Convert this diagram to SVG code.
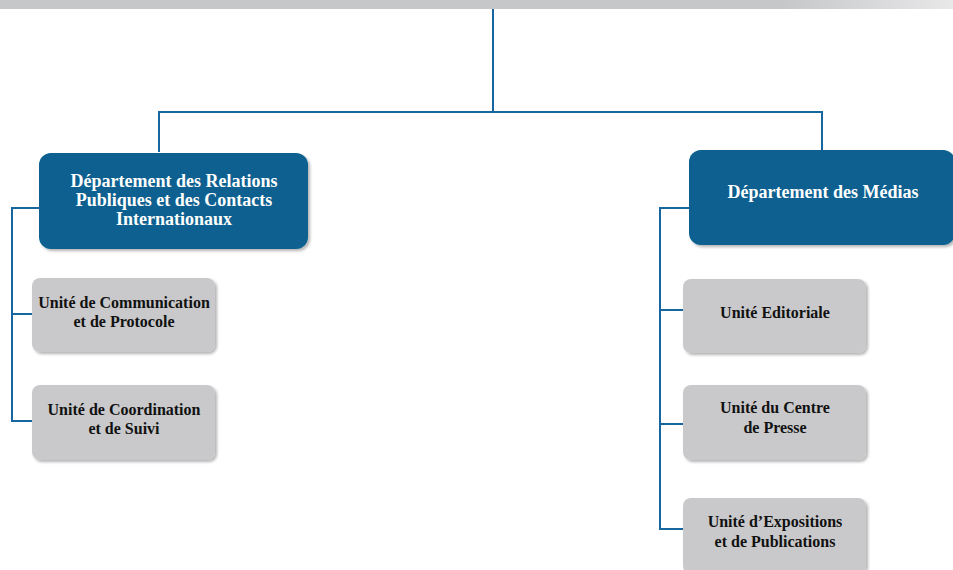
<svg xmlns="http://www.w3.org/2000/svg" width="953" height="570" viewBox="0 0 953 570">
<defs>
<linearGradient id="bar" x1="0" y1="0" x2="1" y2="0">
<stop offset="0" stop-color="#c6c7c9"/>
<stop offset="0.82" stop-color="#c6c7c9"/>
<stop offset="1" stop-color="#e8e8e9"/>
</linearGradient>
<filter id="sh" x="-10%" y="-10%" width="125%" height="130%">
<feGaussianBlur in="SourceAlpha" stdDeviation="1.5"/>
<feOffset dx="2" dy="2"/>
<feComponentTransfer><feFuncA type="linear" slope="0.3"/></feComponentTransfer>
<feMerge><feMergeNode/><feMergeNode in="SourceGraphic"/></feMerge>
</filter>
</defs>
<style>
.dept{fill:#08608f;filter:url(#sh)}
.unit{fill:#c9c9cb;filter:url(#sh)}
.dt{font-family:"Liberation Serif",serif;font-weight:bold;font-size:18px;fill:#fff;text-anchor:middle}
.ut{font-family:"Liberation Serif",serif;font-weight:bold;font-size:16px;fill:#111;text-anchor:middle}
.ln{stroke:#1766a0;stroke-width:2;fill:none}
</style>
<rect x="0" y="0" width="953" height="9" fill="url(#bar)"/>
<g id="connectors">
<path class="ln" d="M493 9V112M159 152V112H822V150"/>
<path class="ln" d="M39 208H12V421H32M12 314H32"/>
<path class="ln" d="M689 208H660V529H683M660 310H683M660 424H683"/>
</g>
<g id="dept-relations">
<rect class="dept" x="39" y="153" width="269" height="96" rx="12"/>
<text class="dt" x="174" y="187">Département des Relations</text>
<text class="dt" x="174" y="206">Publiques et des Contacts</text>
<text class="dt" x="174" y="225">Internationaux</text>
</g>
<g id="dept-medias">
<rect class="dept" x="689" y="150" width="266" height="95" rx="12"/>
<text class="dt" x="823" y="198">Département des Médias</text>
</g>
<g id="unit-communication">
<rect class="unit" x="32" y="278" width="183" height="74" rx="8"/>
<text class="ut" x="124" y="308">Unité de Communication</text>
<text class="ut" x="124" y="327">et de Protocole</text>
</g>
<g id="unit-coordination">
<rect class="unit" x="32" y="385" width="183" height="75" rx="8"/>
<text class="ut" x="124" y="415">Unité de Coordination</text>
<text class="ut" x="124" y="434">et de Suivi</text>
</g>
<g id="unit-editoriale">
<rect class="unit" x="683" y="279" width="183" height="74" rx="8"/>
<text class="ut" x="775" y="318">Unité Editoriale</text>
</g>
<g id="unit-presse">
<rect class="unit" x="683" y="385" width="183" height="75" rx="8"/>
<text class="ut" x="775" y="413">Unité du Centre</text>
<text class="ut" x="775" y="433">de Presse</text>
</g>
<g id="unit-expositions">
<rect class="unit" x="683" y="498" width="183" height="76" rx="8"/>
<text class="ut" x="775" y="527">Unité d’Expositions</text>
<text class="ut" x="775" y="547">et de Publications</text>
</g>
</svg>
